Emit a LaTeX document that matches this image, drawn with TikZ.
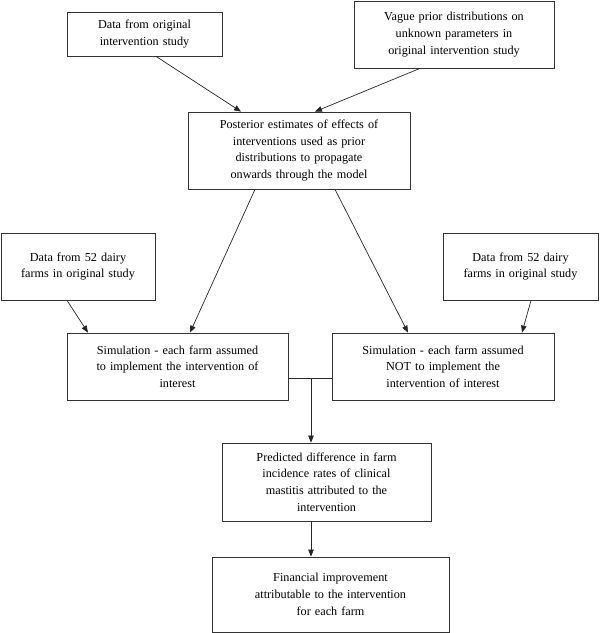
\documentclass[tikz,border=0pt]{standalone}
\usepackage{fontspec}
\setmainfont{Liberation Serif}
\usetikzlibrary{arrows.meta}
\tikzset{
  box/.style={draw=black!80, line width=0.75pt, inner xsep=0pt, inner ysep=0pt, align=center,
    font=\fontsize{12.2}{16.7}\selectfont},
  arr/.style={draw=black!85, line width=0.7pt, -{Triangle[length=7pt,width=5.5pt]}},
  ln/.style={draw=black!85, line width=0.7pt}
}
\begin{document}
\begin{tikzpicture}[x=1pt,y=-1pt]
\useasboundingbox (0,0) rectangle (600,633);
\node[box, text width=155, minimum height=44] (A) at (144.5,34) {Data from original\\intervention study};
\node[box, text width=200, minimum height=67] (B) at (454,34.5) {Vague prior distributions on\\unknown parameters in\\original intervention study};
\node[box, text width=222, minimum height=77] (P) at (299,150.5) {Posterior estimates of effects of\\interventions used as prior\\distributions to propagate\\onwards through the model};
\node[box, text width=154, minimum height=67] (C) at (78,266.5) {Data from 52 dairy\\farms in original study};
\node[box, text width=155, minimum height=67] (D) at (520.5,266.5) {Data from 52 dairy\\farms in original study};
\node[box, text width=221, minimum height=67] (S1) at (177.5,366.5) {Simulation - each farm assumed\\to implement the intervention of\\interest};
\node[box, text width=222, minimum height=67] (S2) at (443,366.5) {Simulation - each farm assumed\\NOT to implement the\\intervention of interest};
\node[box, text width=209, minimum height=78] (Q) at (326.5,482) {Predicted difference in farm\\incidence rates of clinical\\mastitis attributed to the\\intervention};
\node[box, text width=237, minimum height=75] (F) at (330.5,594.5) {Financial improvement\\attributable to the intervention\\for each farm};
\coordinate (J) at (311,378);
\draw[arr] ([xshift=11.5]A.south) -- ([xshift=-58]P.north);
\draw[arr] ([xshift=-34]B.south) -- ([xshift=16]P.north);
\draw[arr] ([xshift=-44]P.south) -- ([xshift=12.5]S1.north);
\draw[arr] ([xshift=36]P.south) -- ([xshift=-35]S2.north);
\draw[arr] ([xshift=-11]C.south) -- ([xshift=-89.5]S1.north);
\draw[arr] ([xshift=10.5]D.south) -- ([xshift=79]S2.north);
\draw[ln] (S1.east |- J) -- (S2.west |- J);
\draw[arr] (J) -- (J |- Q.north);
\draw[arr] (J |- Q.south) -- (J |- F.north);
\end{tikzpicture}
\end{document}
